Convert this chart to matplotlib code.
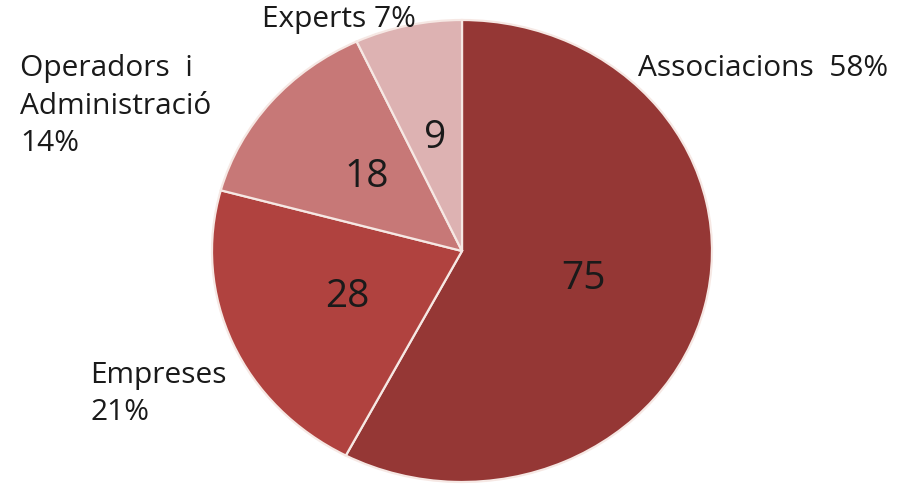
import matplotlib.pyplot as plt

# Data
categories = ['Associacions', 'Empreses', 'Operadors i\nAdministració', 'Experts']
counts = [75, 28, 18, 9]
colors = ['#953735', '#B0423F', '#C77877', '#DDB2B2']

# label text + position (pixels from top-left) for the outer labels
label_text = ['Associacions  58%', 'Empreses\n21%', 'Operadors  i\nAdministració\n14%', 'Experts 7%']
label_pos = [(638, 68), (90, 394), (20, 106), (262, 20)]

W, H = 918, 487
fig = plt.figure(figsize=(W / 100, H / 100), dpi=100)
fig.patch.set_facecolor('white')

# pie axes: slightly squashed ellipse like the original
cx, cy, rx, ry = 462, 251, 250, 231
ax = fig.add_axes([(cx - rx) / W, 1 - (cy + ry) / H, 2 * rx / W, 2 * ry / H])

total = sum(counts)
wedges, texts, autotexts = ax.pie(
    counts, colors=colors, startangle=90, counterclock=False,
    autopct=lambda p: f'{round(p * total / 100)}', pctdistance=0.5,
    wedgeprops=dict(edgecolor='#F6E8E4', linewidth=1.6),
    textprops=dict(fontsize=28, color='#1a1a1a', family='Open Sans'))
ax.set_aspect('auto')
ax.set_xlim(-1, 1)
ax.set_ylim(-1, 1)
ax.axis('off')

for txt, (x, y) in zip(label_text, label_pos):
    fig.text(x / W, 1 - y / H, txt, ha='left', va='center', fontsize=21.5,
             family='Open Sans', color='#1a1a1a', linespacing=1.38)

plt.savefig('out.png', dpi=100, facecolor='white')
